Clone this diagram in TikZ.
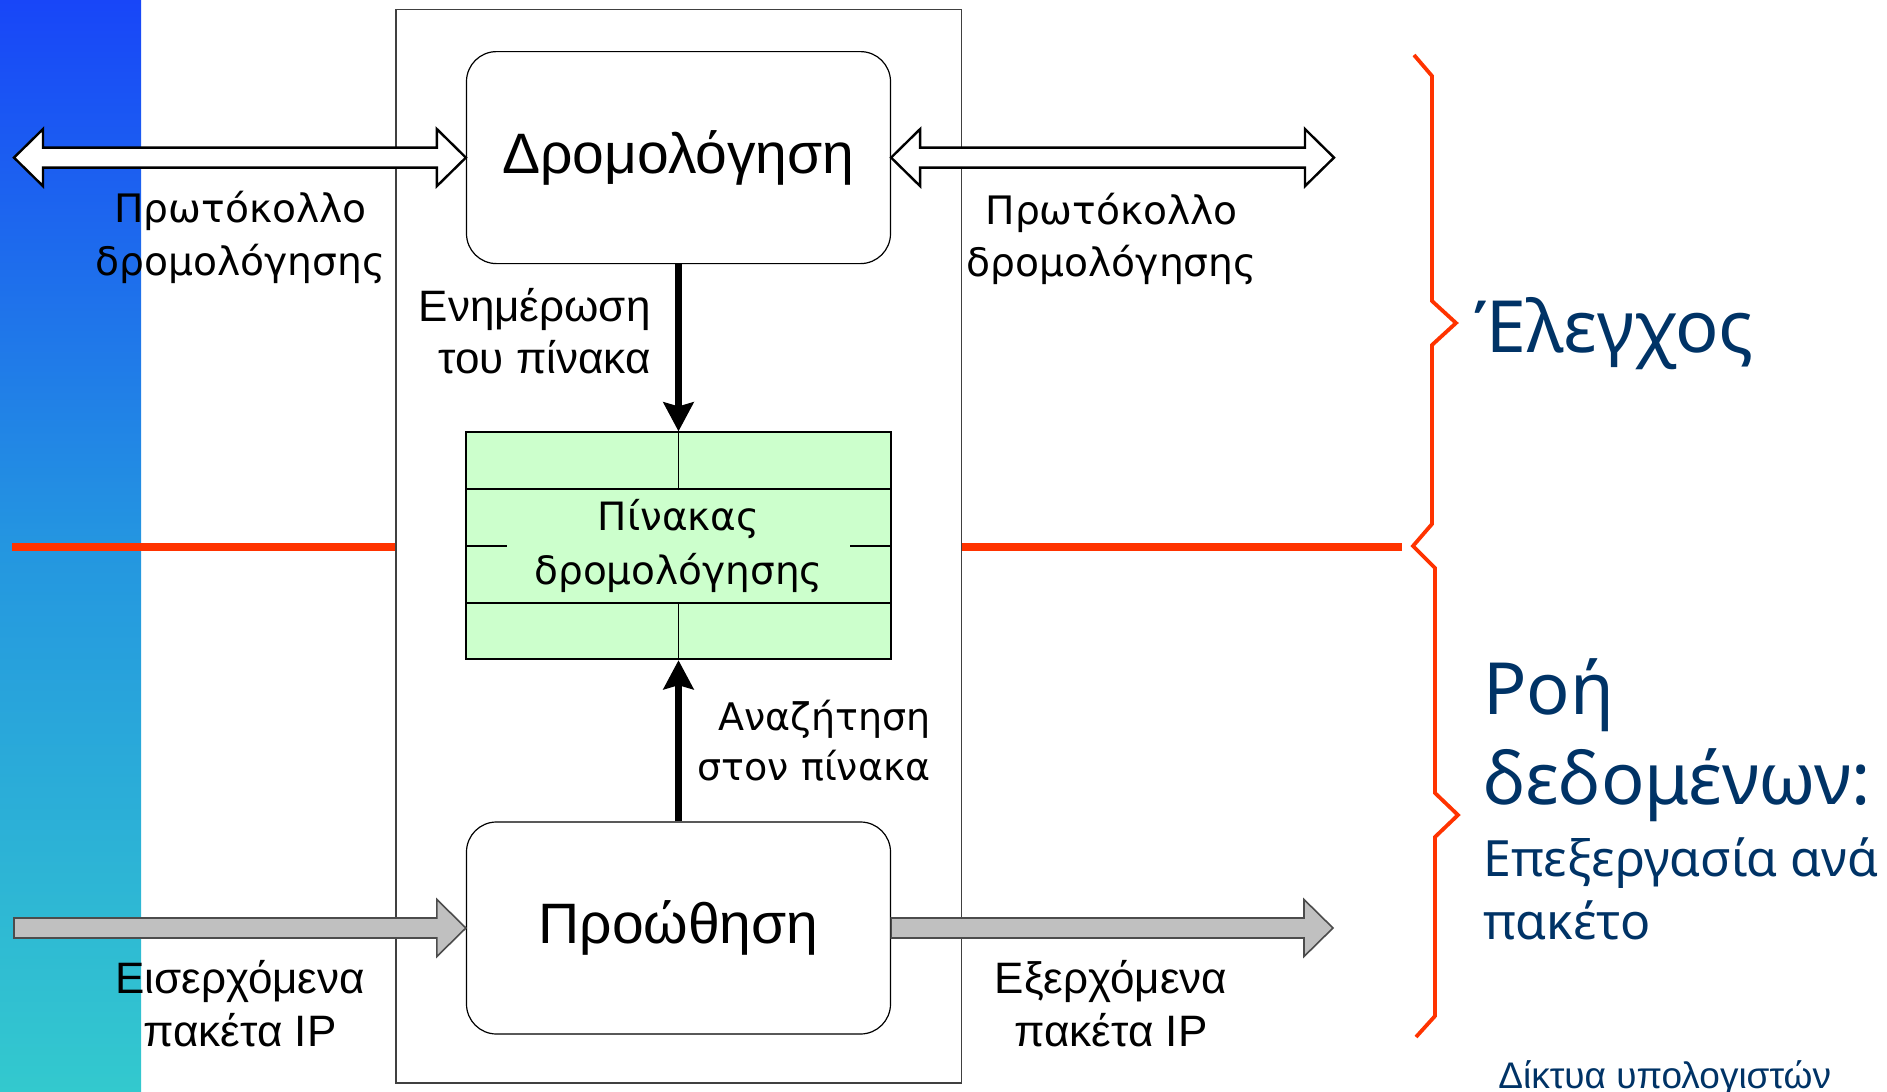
\documentclass[tikz,border=0pt]{standalone}
\usepackage{fontspec}
\setmainfont{Liberation Sans}
\newfontfamily\tahoma{DejaVu Sans}
\newfontfamily\comic{Noto Sans}
\usetikzlibrary{calc, arrows.meta, positioning}
\definecolor{tablegreen}{RGB}{204,255,204}
\definecolor{packetgray}{RGB}{192,192,192}
\definecolor{splitred}{RGB}{255,51,0}
\definecolor{navy}{RGB}{0,51,102}
\definecolor{bartop}{RGB}{24,70,248}
\definecolor{barmid}{RGB}{36,150,224}
\definecolor{barbot}{RGB}{51,201,206}

% hollow block arrow, head at both ends
\newcommand{\dblarrow}[3][]{%
    \draw[#1] (#2) -- ($(#2)+(29,-28.5)$) -- ($(#2)+(29,-10)$) -- ($(#3)+(-29,-10)$)
        -- ($(#3)+(-29,-28.5)$) -- (#3) -- ($(#3)+(-29,28.5)$) -- ($(#3)+(-29,10)$)
        -- ($(#2)+(29,10)$) -- ($(#2)+(29,28.5)$) -- cycle;}
% block arrow, one head
\newcommand{\fatarrow}[3][]{%
    \draw[#1] ($(#2)+(0,-10)$) -- ($(#3)+(-29,-10)$) -- ($(#3)+(-29,-28.5)$) -- (#3)
        -- ($(#3)+(-29,28.5)$) -- ($(#3)+(-29,10)$) -- ($(#2)+(0,10)$) -- cycle;}

\begin{document}
\begin{tikzpicture}
    [
        x=0.5pt, y=-0.5pt, node distance=194.1pt,
        procbox/.style={draw, fill=white, rounded corners=15pt, minimum width=212pt, minimum height=106pt, line width=0.6pt, font=\fontsize{28.5}{34}\selectfont},
        tablebox/.style={draw, fill=tablegreen, minimum width=212.3pt, minimum height=113.5pt, line width=0.9pt, align=center, font=\tahoma\fontsize{19.5}{27}\selectfont},
        frame/.style={draw=black!75, line width=0.8pt, minimum width=282.75pt, minimum height=536.7pt},
        lbl/.style={inner sep=0pt, align=center, font=\fontsize{22}{26.2}\selectfont},
        tlbl/.style={inner sep=0pt, align=center, font=\tahoma\fontsize{19.6}{26.2}\selectfont},
        title/.style={text=navy, inner sep=0pt, align=left, font=\comic\fontsize{36}{45}\selectfont},
        subtitle/.style={text=navy, inner sep=0pt, align=left, font=\comic\fontsize{25}{31.7}\selectfont},
        footer/.style={text=navy, inner sep=0pt, font=\fontsize{18.5}{22}\selectfont}
    ]
    \tikzstyle{line} = [draw, line width=3.3pt, -{Stealth[length=14.5pt,width=15pt,inset=2pt]}]
    \tikzstyle{hollow} = [draw, fill=white, line width=1.2pt, line join=miter]
    \tikzstyle{packet} = [draw=black!70, fill=packetgray, line width=0.8pt, line join=miter]
    \tikzstyle{splitline} = [draw=splitred, line width=4pt]
    \tikzstyle{brace} = [draw=splitred, line width=1.9pt, line join=miter]

    \useasboundingbox (0,0) rectangle (1887,1092);
    \shade[top color=bartop, bottom color=barbot, middle color=barmid] (0,0) rectangle (141,1092);

    \begin{scope}
        \node[frame] (router) at (678.75,546.3) {};
        \node[procbox] (routing) at (678.5,157.6) {Δρομολόγηση};
        \node[tablebox, below of=routing] (table) {Πίνακας\\δρομολόγησης};
        \node[procbox, below of=table, node distance=191.1pt] (forwarding) {Προώθηση};

        \draw[line width=0.9pt] ($(table.north west)!0.25!(table.south west)$) -- ($(table.north east)!0.25!(table.south east)$);
        \draw[line width=0.9pt] ($(table.north west)!0.75!(table.south west)$) -- ($(table.north east)!0.75!(table.south east)$);
        \draw[line width=0.9pt] (table.north) -- ($(table.north)!0.25!(table.south)$);
        \draw[line width=0.9pt] ($(table.north)!0.75!(table.south)$) -- (table.south);
        \draw[line width=0.9pt] (table.west) -- ++(41.5,0);
        \draw[line width=0.9pt] (table.east) -- ++(-42,0);

        \path[line] (routing) -- (table);
        \path[line] (forwarding) -- (table);

        \coordinate (peerL) at (14,157.6);
        \coordinate (peerR) at (1334,157.6);
        \coordinate (inL) at (14,928);
        \coordinate (outR) at (1333,928);
        \dblarrow[hollow]{peerL}{routing.west}
        \dblarrow[hollow]{routing.east}{peerR}
        \fatarrow[packet]{inL}{forwarding.west}
        \fatarrow[packet]{forwarding.east}{outR}

        \node[tlbl] (protoL) at (240.5,237.5) {Πρωτόκολλο\\δρομολόγησης};
        \node[tlbl] (protoR) at (1111.7,238.8) {Πρωτόκολλο\\δρομολόγησης};
        \node[lbl, align=right, anchor=east] (update) at (651,331) {Ενημέρωση\\του πίνακα};
        \node[tlbl, align=right, anchor=east, font=\tahoma\fontsize{19}{25}\selectfont] (lookup) at (931,740.5) {Αναζήτηση\\στον πίνακα};
        \node[lbl] (incoming) at (240,1003.5) {Εισερχόμενα\\πακέτα IP};
        \node[lbl] (outgoing) at (1111,1003.5) {Εξερχόμενα\\πακέτα IP};
    \end{scope}

    \coordinate (redL) at (12,546.7);
    \coordinate (redR) at (1402,546.7);
    \path[splitline] (redL) -- (router.west |- redL);
    \path[splitline] (router.east |- redR) -- (redR);

    \path[brace] (1414,55) -- (1432,76) -- (1432,301) -- (1456,323) -- (1432,345) -- (1432,524) -- (1413,546)
        -- (1435,568) -- (1435,793) -- (1458,815) -- (1435,837) -- (1435,1016) -- (1416,1037);

    \node[title, anchor=base west] (control) at (1474,352.6) {Έλεγχος};
    \node[title, anchor=west] (dataflow) at (1483,740) {Ροή\\δεδομένων:};
    \node[subtitle, anchor=west] (perpacket) at (1483,889) {Επεξεργασία ανά\\πακέτο};
    \node[footer, anchor=base west] (course) at (1498,1088) {Δίκτυα υπολογιστών};

\end{tikzpicture}
\end{document}
